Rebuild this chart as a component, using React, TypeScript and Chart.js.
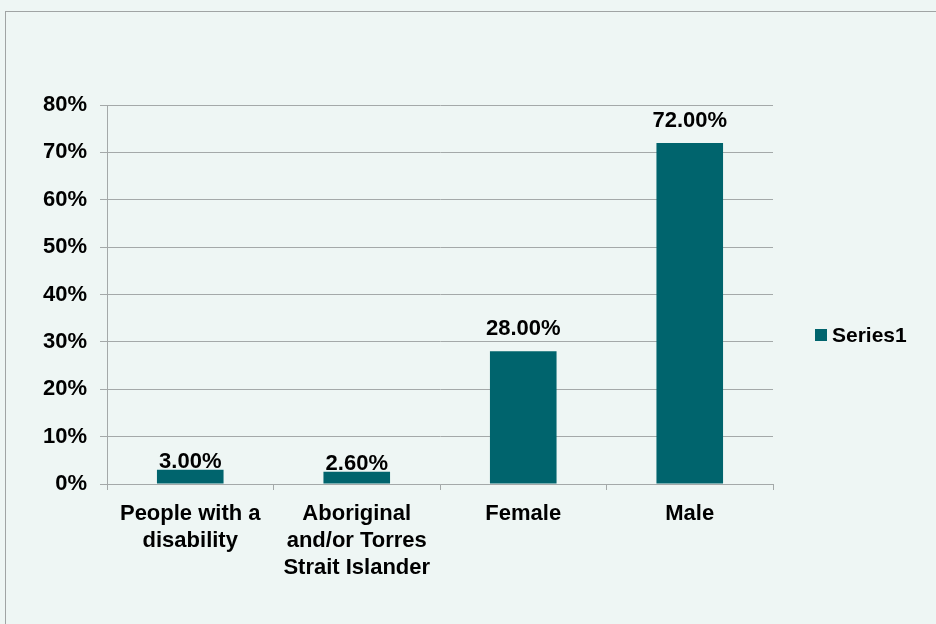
import React, { useEffect, useRef } from "react";
import { Chart, registerables } from "chart.js";

Chart.register(...registerables);

const categories: (string | string[])[] = [
  ["People with a", "disability"],
  ["Aboriginal", "and/or Torres", "Strait Islander"],
  "Female",
  "Male",
];
const seriesLabel = "Series1";
const seriesValues = [3.0, 2.6, 28.0, 72.0];
const yTicks = [0, 10, 20, 30, 40, 50, 60, 70, 80];

const BAR_COLOR = "#00646D";
const GRID_COLOR = "#A4A9A9";
const BG_COLOR = "#EEF6F4";
const FONT_FAMILY = "'Liberation Sans', Arial, Helvetica, sans-serif";
const FONT_SIZE = 22;

// value labels above each bar
const valueLabels = {
  id: "valueLabels",
  afterDatasetsDraw(chart: Chart) {
    const { ctx } = chart;
    const meta = chart.getDatasetMeta(0);
    const data = chart.data.datasets[0].data as number[];
    ctx.save();
    ctx.font = `bold ${FONT_SIZE}px ${FONT_FAMILY}`;
    ctx.fillStyle = "#000";
    ctx.textAlign = "center";
    ctx.textBaseline = "alphabetic";
    meta.data.forEach((el: any, i: number) => {
      const h = el.base - el.y;
      const gap = h < 30 ? 2 : 16;
      ctx.fillText(data[i].toFixed(2) + "%", el.x, el.y - gap);
    });
    ctx.restore();
  },
};

// legend on the right
const sideLegend = {
  id: "sideLegend",
  afterDraw(chart: Chart) {
    const { ctx } = chart;
    const ds = chart.data.datasets[0];
    ctx.save();
    ctx.fillStyle = ds.backgroundColor as string;
    ctx.fillRect(815, 329, 12, 12);
    ctx.font = `bold 21px ${FONT_FAMILY}`;
    ctx.fillStyle = "#000";
    ctx.textAlign = "left";
    ctx.textBaseline = "middle";
    ctx.fillText(ds.label as string, 832, 336);
    ctx.restore();
  },
};

export default function App() {
  const canvasRef = useRef<HTMLCanvasElement | null>(null);

  useEffect(() => {
    if (!canvasRef.current) return;
    const chart = new Chart(canvasRef.current, {
      type: "bar",
      data: {
        labels: categories,
        datasets: [
          {
            label: seriesLabel,
            data: seriesValues,
            backgroundColor: BAR_COLOR,
            borderWidth: 0,
            barPercentage: 0.4,
            categoryPercentage: 1,
          },
        ],
      },
      options: {
        responsive: false,
        animation: false,
        layout: { padding: { top: 105, right: 163, left: 0, bottom: 0 } },
        plugins: {
          legend: { display: false },
          tooltip: { enabled: false },
        },
        scales: {
          x: {
            offset: true,
            grid: {
              display: true,
              drawOnChartArea: false,
              drawTicks: true,
              tickLength: 6,
              color: GRID_COLOR,
              offset: true,
            },
            border: { display: true, color: GRID_COLOR },
            ticks: {
              color: "#000",
              padding: 10,
              maxRotation: 0,
              autoSkip: false,
              font: { family: FONT_FAMILY, size: FONT_SIZE, weight: "bold", lineHeight: 1.23 },
            },
            afterFit(scale: any) {
              scale.height = 140;
            },
          },
          y: {
            min: 0,
            max: 80,
            afterBuildTicks(scale: any) {
              scale.ticks = yTicks.map((v) => ({ value: v }));
            },
            grid: {
              color: GRID_COLOR,
              tickLength: 7,
              drawTicks: true,
            },
            border: { display: true, color: GRID_COLOR },
            ticks: {
              color: "#000",
              padding: 13,
              callback: (v: any) => `${v}%`,
              font: { family: FONT_FAMILY, size: FONT_SIZE, weight: "bold" },
            },
            afterFit(scale: any) {
              scale.width = 107;
            },
          },
        },
      },
      plugins: [valueLabels, sideLegend],
    });
    return () => chart.destroy();
  }, []);

  return (
    <div style={{ position: "fixed", inset: 0, background: BG_COLOR, overflow: "hidden" }}>
      <div
        style={{
          position: "absolute",
          left: 5,
          top: 11,
          width: 1000,
          height: 700,
          border: "1px solid #A0A4A4",
          boxSizing: "border-box",
        }}
      />
      <canvas
        ref={canvasRef}
        width={936}
        height={624}
        style={{ position: "absolute", left: 0, top: 0 }}
      />
    </div>
  );
}
